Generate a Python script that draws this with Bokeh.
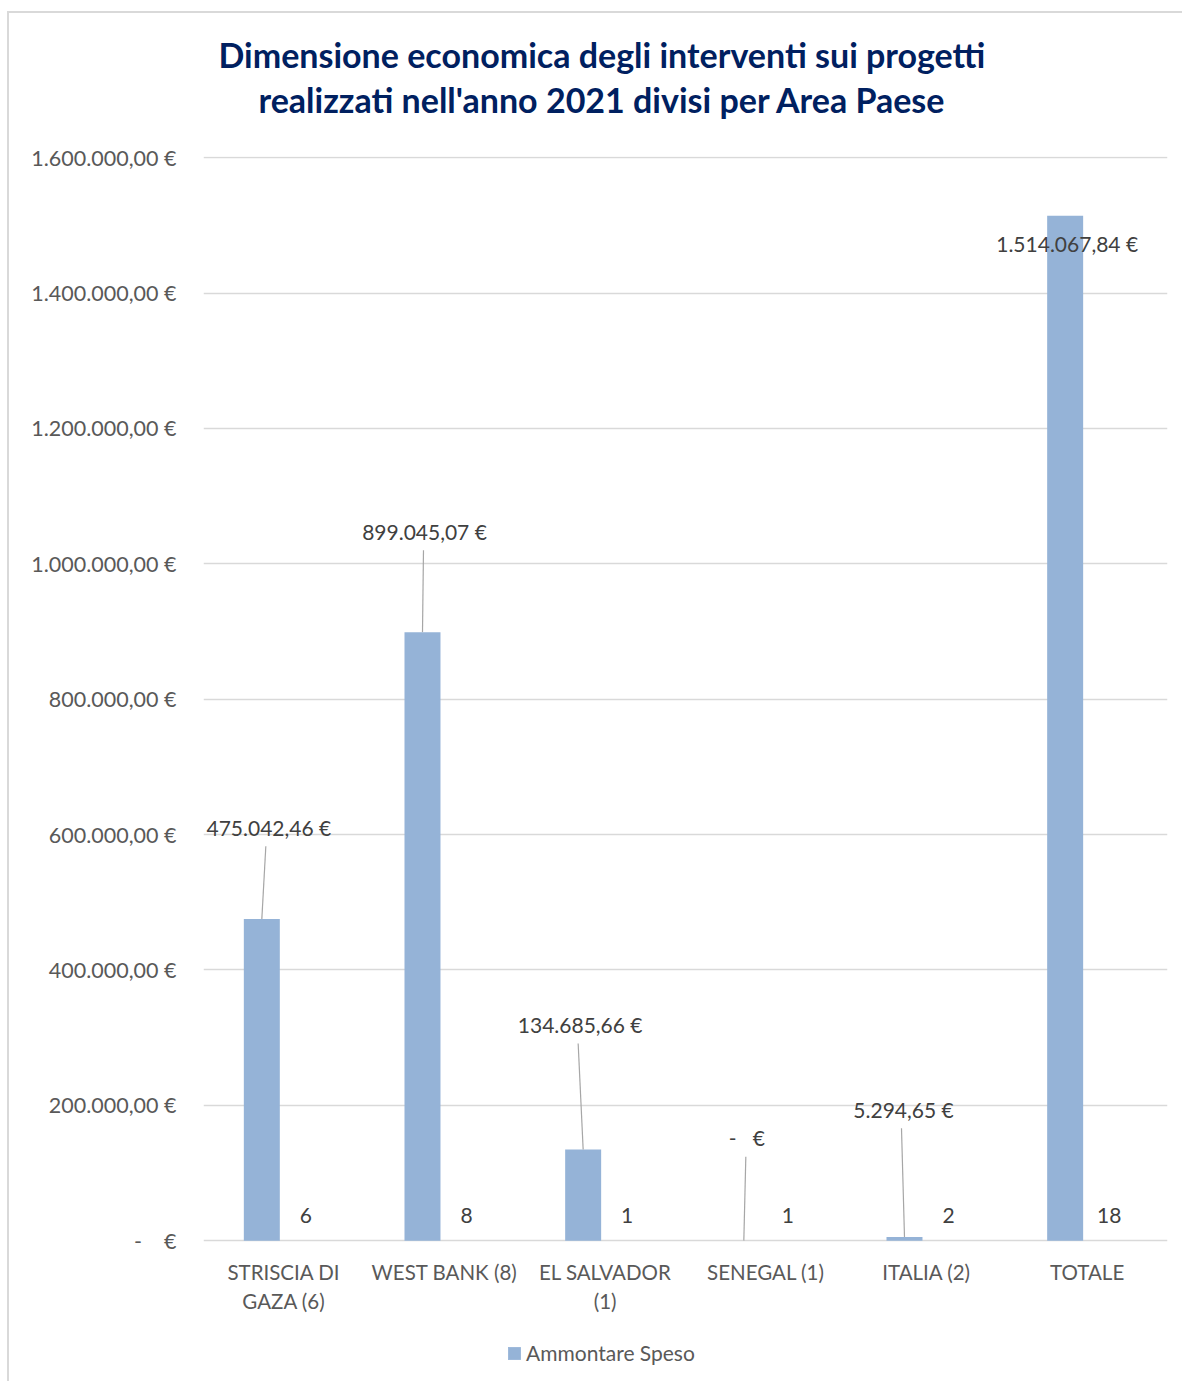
from bokeh.plotting import figure
from bokeh.models import (Range1d, FixedTicker, Legend, LegendItem, Title,
                          ColumnDataSource)
from bokeh.embed import file_html
from bokeh.resources import INLINE

# ---------------- data ----------------
categories = ["STRISCIA DI\nGAZA (6)", "WEST BANK (8)", "EL SALVADOR\n(1)",
              "SENEGAL (1)", "ITALIA (2)", "TOTALE"]
ammontare = [475042.46, 899045.07, 134685.66, 0.0, 5294.65, 1514067.84]
progetti = [6, 8, 1, 1, 2, 18]
y_ticks = [0, 200000, 400000, 600000, 800000, 1000000, 1200000, 1400000, 1600000]
series_name = "Ammontare Speso"
title_lines = ["Dimensione economica degli interventi sui progetti",
               "realizzati nell'anno 2021 divisi per Area Paese"]

# ---------------- style ----------------
FONT = "Lato"
BAR_COLOR = "#95B3D7"
TEXT_COLOR = "#404040"
AXIS_TEXT = "#595959"
GRID = "#d9d9d9"
LEADER = "#a6a6a6"

FW = 964
PLOT_H = 1084          # pixel height of the value scale (0 .. YMAX)
BELOW_H = 141          # pixels below the zero line kept for labels + legend
FH = PLOT_H + BELOW_H
ML, MR, MT, MB = 194, 15, 143, 0
YMAX = 1600000
y_per_px = YMAX / PLOT_H
n = len(categories)
x_per_px = n / FW

BAR_W = 0.224
DODGE = 0.137

# label placement nudges in pixels (dx, dy up) relative to bar top centre
lab_dx = [7, 2, -3, 3, -1, 2]
lab_up = [92, 101, 125, 103, 128, -28]
leader_dx = [4, 1, -5, 2, -3, None]
cat_line_down = [31, 60]   # pixels below zero line for category label lines

NB = "\u00a0"


def it_money(v):
    if v == 0:
        return "-" + NB * 4 + "€"
    s = f"{v:,.2f}".replace(",", "X").replace(".", ",").replace("X", ".")
    return s + " €"


xc = [i + 0.5 for i in range(n)]
x1 = [x - DODGE for x in xc]
x2 = [x + DODGE for x in xc]

pad = 1.2 * y_per_px
p = figure(frame_width=FW, frame_height=FH, x_range=Range1d(0, n),
           y_range=Range1d(-BELOW_H * y_per_px, YMAX + pad),
           output_backend="svg", toolbar_location=None,
           min_border_left=ML, min_border_right=MR, min_border_top=MT,
           min_border_bottom=MB)
p.outline_line_color = None
p.background_fill_color = "white"
p.border_fill_color = "white"
p.styles = {"border-top": "2px solid #d9d9d9", "border-left": "2px solid #d9d9d9",
            "margin-top": "11px", "margin-left": "7px"}

# title: spacer nearest the plot, then line 2, then line 1
p.add_layout(Title(text=" ", text_font_size="1px", standoff=28), "above")
title_offsets = [15, 55]
title_valign = ["bottom", "top"]
title_standoffs = [0, 8]
for idx in (1, 0):
    p.add_layout(Title(text=title_lines[idx], align="left",
                       vertical_align=title_valign[idx],
                       offset=title_offsets[idx], standoff=title_standoffs[idx],
                       text_font=FONT, text_font_size="34px",
                       text_font_style="bold", text_color="#002060"), "above")

# bars
src1 = ColumnDataSource(dict(x=x1, top=ammontare))
r1 = p.vbar(x="x", top="top", width=BAR_W, source=src1, fill_color=BAR_COLOR,
            line_color=None)
src2 = ColumnDataSource(dict(x=x2, top=progetti))
p.vbar(x="x", top="top", width=BAR_W, source=src2, fill_color=BAR_COLOR,
       line_color=None)

# data labels for amounts
lx, ly, lt = [], [], []
sx0, sy0, sx1, sy1 = [], [], [], []
for i, v in enumerate(ammontare):
    lx.append(x1[i] + lab_dx[i] * x_per_px)
    ly.append(v + lab_up[i] * y_per_px)
    lt.append(it_money(v).replace(NB * 4, NB * 3))
    if leader_dx[i] is not None:
        sx0.append(x1[i] + leader_dx[i] * x_per_px)
        sy0.append(v + (lab_up[i] - 19) * y_per_px)
        sx1.append(x1[i])
        sy1.append(v)
p.segment(x0=sx0, y0=sy0, x1=sx1, y1=sy1, line_color=LEADER, line_width=1.2)
p.text(x=lx, y=ly, text=lt, text_align="center", text_baseline="middle",
       text_font={"value": FONT}, text_font_size="21px", text_color=TEXT_COLOR)

# count labels
p.text(x=x2, y=[c + 25 * y_per_px for c in progetti], text=[str(c) for c in progetti],
       text_align="center", text_baseline="middle", text_font={"value": FONT},
       text_font_size="21px", text_color=TEXT_COLOR)

# category labels (drawn under the zero line, one text per line)
cx, cy, ct = [], [], []
for x, c in zip(xc, categories):
    for k, line in enumerate(c.split("\n")):
        cx.append(x)
        cy.append(-cat_line_down[k] * y_per_px)
        ct.append(line)
p.text(x=cx, y=cy, text=ct, text_align="center", text_baseline="middle",
       text_font={"value": FONT}, text_font_size="20.5px", text_color=AXIS_TEXT)

# axes
p.yaxis.ticker = FixedTicker(ticks=y_ticks)
p.yaxis.major_label_overrides = {t_: it_money(t_) for t_ in y_ticks}
p.yaxis.axis_line_color = None
p.yaxis.major_tick_line_color = None
p.yaxis.minor_tick_line_color = None
p.yaxis.major_label_standoff = 21
p.yaxis.major_label_text_font = FONT
p.yaxis.major_label_text_font_size = "21.5px"
p.yaxis.major_label_text_color = AXIS_TEXT
p.xaxis.visible = False

p.xgrid.grid_line_color = None
p.ygrid.grid_line_color = GRID
p.ygrid.grid_line_width = 1.6

legend = Legend(items=[LegendItem(label=series_name, renderers=[r1])],
                location=(303, 16), orientation="horizontal",
                glyph_width=16, glyph_height=16, padding=0, margin=0,
                label_text_font=FONT, label_text_font_size="21px",
                label_text_color=AXIS_TEXT, border_line_color=None,
                background_fill_alpha=0, label_standoff=4)
p.add_layout(legend, "center")

open("out.html", "w").write(file_html(p, INLINE))
